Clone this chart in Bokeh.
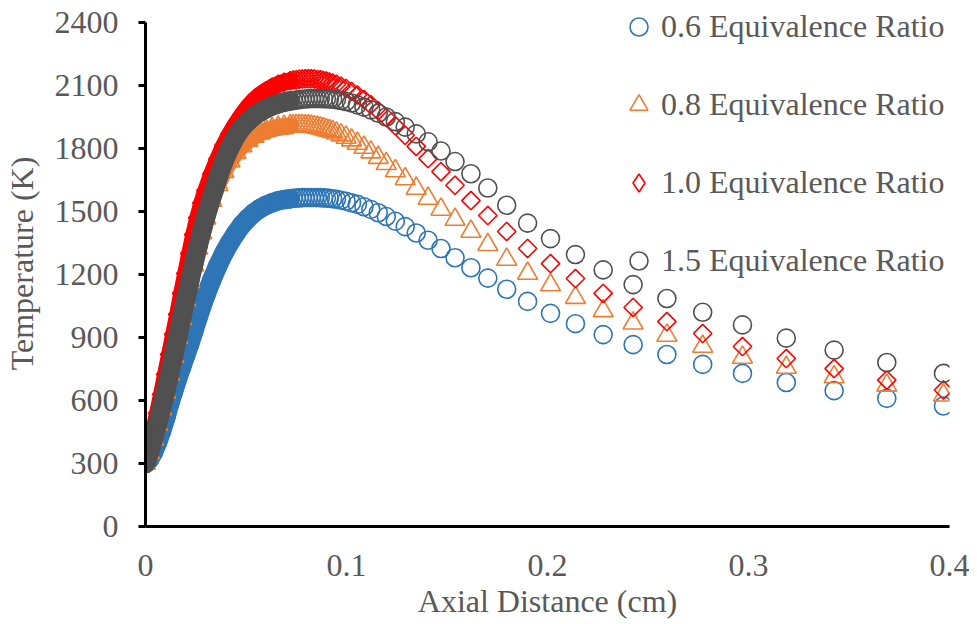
import numpy as np
from bokeh.plotting import figure
from bokeh.models import Range1d, FixedTicker, Legend, LegendItem, ColumnDataSource
from bokeh.embed import file_html
from bokeh.resources import INLINE

# ---------------- data ----------------
axial_cm = [0, 0.002, 0.004, 0.006, 0.008, 0.010, 0.012, 0.014, 0.016, 0.018,
            0.020, 0.022, 0.024, 0.026, 0.028, 0.030, 0.033, 0.036, 0.039, 0.042,
            0.045, 0.048, 0.051, 0.054, 0.057, 0.060, 0.063, 0.066, 0.069, 0.072,
            0.0735, 0.075, 0.0765, 0.078, 0.0795, 0.081, 0.0825, 0.084, 0.0855, 0.087,
            0.0885, 0.090, 0.0915, 0.0931, 0.0950, 0.0973, 0.0998, 0.1025, 0.1054, 0.1087,
            0.1121, 0.1158, 0.1198, 0.1243, 0.1292, 0.1347, 0.1406, 0.1470, 0.1540, 0.1619,
            0.1703, 0.1797, 0.1901, 0.2015, 0.2139, 0.2277, 0.2426, 0.2594, 0.2772, 0.2970,
            0.3188, 0.3426, 0.3688, 0.3970]

temp_phi06 = [300, 320, 355, 400, 455, 515, 585, 645, 705, 760,
              815, 870, 930, 990, 1048, 1102, 1175, 1242, 1302, 1353,
              1398, 1437, 1468, 1494, 1514, 1530, 1542, 1551, 1557, 1561,
              1563, 1564, 1565, 1566, 1567, 1567, 1567, 1567, 1567, 1566,
              1565, 1564, 1563, 1561, 1558, 1554, 1549, 1542, 1534, 1523,
              1510, 1494, 1476, 1454, 1428, 1398, 1363, 1324, 1280, 1232,
              1183, 1130, 1072, 1015, 966, 914, 866, 819, 772, 729,
              686, 647, 610, 574]

temp_phi08 = [300, 352, 416, 486, 560, 640, 725, 810, 900, 990,
              1080, 1165, 1245, 1325, 1398, 1468, 1553, 1628, 1690, 1740,
              1780, 1813, 1838, 1858, 1873, 1885, 1894, 1900, 1904, 1907,
              1908, 1909, 1909, 1909, 1908, 1907, 1905, 1903, 1900, 1897,
              1893, 1889, 1885, 1880, 1873, 1864, 1853, 1840, 1824, 1805,
              1783, 1757, 1728, 1693, 1655, 1610, 1562, 1510, 1462, 1405,
              1342, 1272, 1205, 1150, 1090, 1027, 968, 910, 857, 805,
              757, 712, 672, 625]

temp_phi10 = [300, 375, 455, 540, 630, 725, 820, 915, 1010, 1110,
              1205, 1300, 1390, 1470, 1540, 1600, 1680, 1750, 1815, 1870,
              1917, 1960, 1998, 2030, 2055, 2075, 2092, 2106, 2116, 2123,
              2126, 2128, 2130, 2131, 2132, 2132, 2132, 2131, 2129, 2127,
              2124, 2121, 2117, 2112, 2106, 2097, 2086, 2072, 2055, 2033,
              2008, 1980, 1948, 1908, 1863, 1810, 1752, 1690, 1625, 1552,
              1481, 1405, 1324, 1252, 1181, 1110, 1043, 976, 919, 857,
              800, 752, 697, 650]

temp_phi15 = [300, 355, 420, 490, 565, 645, 730, 815, 905, 995,
              1085, 1170, 1250, 1330, 1405, 1475, 1570, 1660, 1740, 1805,
              1858, 1900, 1930, 1955, 1975, 1990, 2003, 2013, 2021, 2027,
              2029, 2031, 2033, 2035, 2036, 2037, 2038, 2038, 2038, 2038,
              2037, 2037, 2036, 2035, 2033, 2029, 2024, 2017, 2008, 1997,
              1984, 1968, 1950, 1928, 1902, 1870, 1832, 1788, 1738, 1680,
              1612, 1530, 1445, 1371, 1295, 1222, 1152, 1086, 1020, 960,
              897, 840, 781, 729]

series_labels = ["0.6 Equivalence Ratio", "0.8 Equivalence Ratio",
                 "1.0 Equivalence Ratio", "1.5 Equivalence Ratio"]
x_ticks = [0, 0.1, 0.2, 0.3, 0.4]
x_tick_labels = ["0", "0.1", "0.2", "0.3", "0.4"]
y_ticks = [0, 300, 600, 900, 1200, 1500, 1800, 2100, 2400]

# ---------------- styling ----------------
FONT = "Liberation Serif"
TXT = "#595959"
colors = ["#2E75B6", "#ED7D31", "#FF0000", "#505050"]
series = [temp_phi06, temp_phi08, temp_phi10, temp_phi15]
# (marker, size, angle, band width of the dense part, legend marker)
markers = [("circle", 18, 0.0, 19.5, "circle"), ("triangle", 20, 0.0, 17, "triangle"),
           ("square", 13, np.pi / 4, 17, "diamond"), ("circle", 18, 0.0, 19.5, "circle")]
DENSE_END = 0.072  # dense (overlapping) part of the computational grid
Y_TOP = 2505        # plot area reaches above the 2400 axis end (legend sits there)

p = figure(width=969, height=622, output_backend="svg", toolbar_location=None,
           x_range=Range1d(0, 0.4), y_range=Range1d(0, Y_TOP),
           min_border_left=142, min_border_right=20, min_border_top=0,
           min_border_bottom=96)
p.outline_line_color = None
p.xgrid.visible = False
p.ygrid.visible = False
p.background_fill_color = "white"

items = []
xa = np.array(axial_cm)
for lab, ys, col, (mk, sz, ang, lw, lmk) in zip(series_labels, series, colors, markers):
    ya = np.array(ys)
    dense = xa <= DENSE_END + 1e-9
    src_dense = ColumnDataSource(dict(x=xa[dense], y=ya[dense]))
    p.line("x", "y", source=src_dense, line_color=col, line_width=lw,
           line_cap="round", line_join="round")
    src = ColumnDataSource(dict(x=xa, y=ya))
    r = p.scatter("x", "y", source=src, marker=mk, size=sz, angle=ang,
                  fill_color=None, line_color=col, line_width=1.6)
    if lmk != mk:
        # legend-only glyph (Bokeh never rotates legend markers); hidden in the plot
        r = p.scatter("x", "y", source=src, marker=lmk, fill_color=None,
                      line_color=col, line_width=1.6, visible=False)
    items.append(LegendItem(label=lab, renderers=[r]))

legend = Legend(items=items, location=(471, 243), orientation="vertical",
                glyph_width=45, glyph_height=45, label_standoff=0, spacing=33,
                padding=0, margin=0, border_line_color=None,
                background_fill_alpha=0, inactive_fill_alpha=0,
                label_text_font=FONT, label_text_font_size="32px",
                label_text_color=TXT)
p.add_layout(legend, "center")

# axes
p.xaxis.ticker = FixedTicker(ticks=x_ticks)
p.xaxis.major_label_overrides = {t: s for t, s in zip(x_ticks, x_tick_labels)}
p.yaxis.ticker = FixedTicker(ticks=y_ticks)
p.yaxis.bounds = (0, 2400)
for ax in (p.xaxis, p.yaxis):
    ax.axis_line_color = "black"
    ax.axis_line_width = 3
    ax.minor_tick_line_color = None
    ax.major_label_text_font = FONT
    ax.major_label_text_font_size = "32px"
    ax.major_label_text_color = TXT
    ax.axis_label_text_font = FONT
    ax.axis_label_text_color = TXT
    ax.axis_label_text_font_style = "normal"
    ax.axis_label_text_font_size = "32px"
p.xaxis.major_tick_line_color = None
p.xaxis.major_tick_out = 0
p.xaxis.major_tick_in = 0
p.xaxis.major_label_standoff = 28
p.xaxis.axis_label_standoff = 4
p.yaxis.major_tick_line_color = "black"
p.yaxis.major_tick_line_width = 3
p.yaxis.major_tick_out = 7
p.yaxis.major_tick_in = 0
p.yaxis.major_label_standoff = 20
p.yaxis.axis_label_standoff = 12
p.xaxis.axis_label = "Axial Distance (cm)"
p.yaxis.axis_label = "Temperature (K)"

open("out.html", "w").write(file_html(p, INLINE))
